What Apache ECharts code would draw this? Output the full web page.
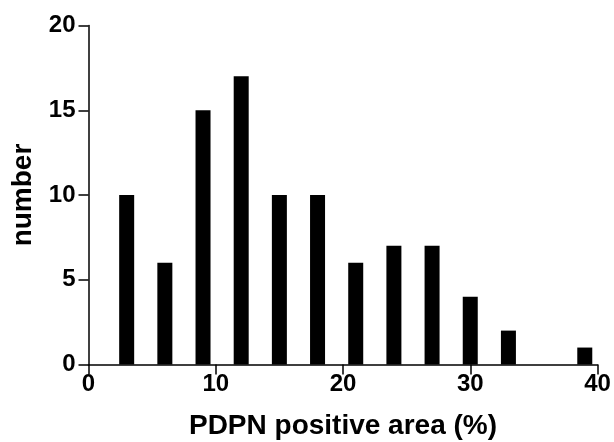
<!DOCTYPE html>
<html>
<head>
<meta charset="utf-8">
<script src="https://cdn.jsdelivr.net/npm/echarts@6/dist/echarts.min.js"></script>
<style>
    html, body { margin: 0; padding: 0; background: #fff; }
    #chart { width: 614px; height: 442px; }
</style>
</head>
<body>
<div id="chart"></div>
<script>
// histogram bins (centre of each bin, %)
const binCenters = [3, 6, 9, 12, 15, 18, 21, 24, 27, 30, 33, 36, 39];
const counts = [10, 6, 15, 17, 10, 10, 6, 7, 7, 4, 2, 0, 1];

const xName = "PDPN positive area (%)";
const yName = "number";

const font = "'Liberation Sans', Arial, Helvetica, sans-serif";

const chart = echarts.init(document.getElementById("chart"));

const axisCommon = {
    axisLine: { show: true, lineStyle: { color: "#000", width: 1.5 } },
    axisTick: { show: true, length: 10, lineStyle: { color: "#000", width: 1.5 } },
    splitLine: { show: false },
    axisLabel: {
        color: "#000",
        fontFamily: font,
        fontWeight: "bold",
        fontSize: 24
    },
    nameTextStyle: {
        color: "#000",
        fontFamily: font,
        fontWeight: "bold",
        fontSize: 28
    }
};

chart.setOption({
    animation: false,
    grid: {
        left: 88.5,
        right: 16.5,
        top: 25.5,
        bottom: 77.5,
        containLabel: false,
        outerBoundsMode: "none"
    },
    xAxis: {
        ...axisCommon,
        type: "value",
        min: 0,
        max: 40,
        interval: 10,
        name: xName,
        nameLocation: "middle",
        nameGap: 48,
        axisLabel: { ...axisCommon.axisLabel, margin: 8 }
    },
    yAxis: {
        ...axisCommon,
        type: "value",
        min: 0,
        max: 20,
        interval: 5,
        name: yName,
        nameLocation: "middle",
        nameGap: 51,
        nameRotate: 90,
        axisLabel: { ...axisCommon.axisLabel, margin: 13 }
    },
    series: [
        {
            type: "bar",
            barWidth: 15,
            itemStyle: { color: "#000" },
            data: binCenters.map((c, i) => [c, counts[i]])
        }
    ]
});
</script>
</body>
</html>
